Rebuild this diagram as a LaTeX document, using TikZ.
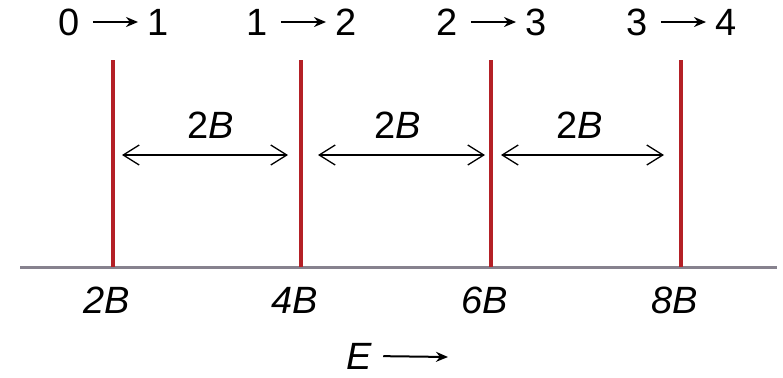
\documentclass[tikz,border=0pt]{standalone}
\usepackage{fontspec}
\setmainfont{Liberation Sans}
\usetikzlibrary{arrows.meta}
\definecolor{linered}{RGB}{180,32,38}
\definecolor{axisgray}{RGB}{135,130,142}
\tikzset{
    level/.style={draw=linered, line width=1.8pt},
    spacing/.style={line width=0.65pt, {Straight Barb[length=8pt,width=10pt]}-{Straight Barb[length=8pt,width=10pt]}},
    trans/.style={line width=1pt, -{Stealth[length=6pt,width=5pt]}}
}
\begin{document}
\begin{tikzpicture}[x=0.5pt, y=-0.5pt, every node/.style={font=\fontsize{19}{22}\selectfont, inner sep=0pt}]
    \useasboundingbox (0,0) rectangle (783,377);

    % Axe des energies
    \coordinate (axl) at (20,267);
    \coordinate (axr) at (777,267);
    \draw[draw=axisgray, line width=1.5pt] (axl) -- (axr);

    % Raies et transitions
    \foreach \i/\x/\lab in {0/113/2, 1/301/4, 2/491/6, 3/681/8} {
        \pgfmathtruncatemacro{\j}{\i+1}
        \coordinate (top\i) at (\x,60);
        \coordinate (bot\i) at (\x,267);
        \coordinate (mid\i) at (\x,155);
        \draw[level] (top\i) -- (bot\i);
        \node (lo\i) at (\x-44,22) {\i};
        \node (hi\i) at (\x+45,22) {\j};
        \draw[trans, shorten <=6.5pt, shorten >=4.5pt] (lo\i.east) -- (hi\i.west);
        \node (e\i) at (\x-6,300) {\itshape \lab B};
    }

    % Ecarts 2B
    \draw[spacing, shorten <=4.5pt, shorten >=6.5pt] (mid0) -- (mid1);
    \draw[spacing, shorten <=8.5pt, shorten >=3pt] (mid1) -- (mid2);
    \draw[spacing, shorten <=5pt, shorten >=8.5pt] (mid2) -- (mid3);
    \node (d0) at (211,125) {2\textit{B}};
    \node (d1) at (398,125) {2\textit{B}};
    \node (d2) at (580,125) {2\textit{B}};

    % Sens de E
    \node (en) at (359,356) {\textit{E}};
    \coordinate (enr) at (448,357);
    \draw[trans, shorten <=5.5pt] (en.east) -- (enr);
\end{tikzpicture}
\end{document}
